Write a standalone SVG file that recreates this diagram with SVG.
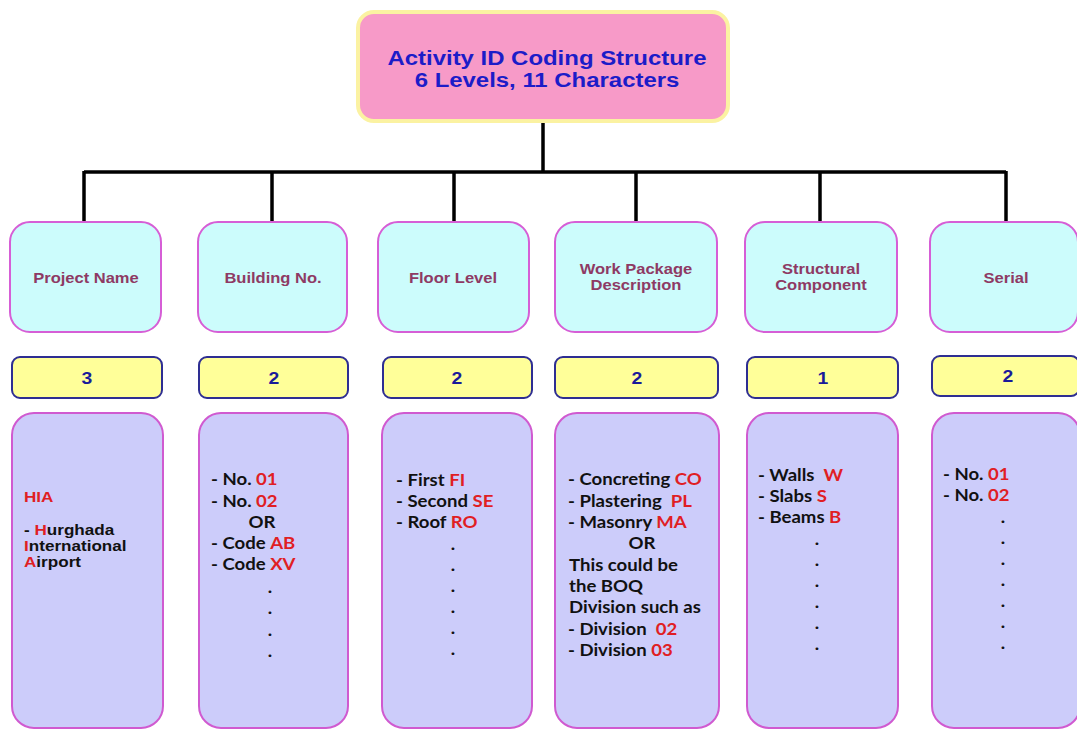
<svg xmlns="http://www.w3.org/2000/svg" width="1077" height="729" viewBox="0 0 1077 729">
  <style>
    text { transform-box: fill-box; white-space: pre; }
    .l { transform-origin: left center; transform: scaleX(1.14); }
    .c { transform-origin: center; transform: scaleX(1.14); text-anchor: middle; }
    .title { font-family: "Liberation Sans", Arial, sans-serif; font-weight: bold; font-size: 21px; fill: #1c1cc8; }
    .head { font-family: "Liberation Sans", Arial, sans-serif; font-weight: bold; font-size: 14.5px; fill: #8e3a64; }
    .num { font-family: "Liberation Sans", Arial, sans-serif; font-weight: bold; font-size: 17px; fill: #1a1a9a; }
    .ar { font-family: "Liberation Sans", Arial, sans-serif; font-weight: bold; font-size: 15px; fill: #111; }
    .cb { font-family: Lato, "Open Sans", sans-serif; font-weight: bold; font-size: 16.3px; fill: #111; }
    .r { fill: #e01e24; }
    .root { fill: #f79ac8; stroke: #fbf2a2; stroke-width: 4; }
    .hd { fill: #ccfcfc; stroke: #d65ed6; stroke-width: 2; }
    .nb { fill: #ffff99; stroke: #2e2e92; stroke-width: 2; }
    .dt { fill: #ccccfa; stroke: #d05ad0; stroke-width: 2; }
    .wire { stroke: #000; stroke-width: 3.5; fill: none; }
  </style>

  <!-- tree connectors -->
  <g id="connectors">
    <line class="wire" x1="543" y1="121" x2="543" y2="172" stroke-width="5"/>
    <line class="wire" x1="84" y1="172" x2="1006" y2="172"/>
    <line class="wire" x1="84" y1="171" x2="84" y2="222"/>
    <line class="wire" x1="272" y1="171" x2="272" y2="222"/>
    <line class="wire" x1="454" y1="171" x2="454" y2="222"/>
    <line class="wire" x1="636" y1="171" x2="636" y2="222"/>
    <line class="wire" x1="820" y1="171" x2="820" y2="222"/>
    <line class="wire" x1="1006" y1="171" x2="1006" y2="222"/>
  </g>

  <!-- root -->
  <g id="root">
    <rect class="root" x="358" y="12" width="370" height="109" rx="16"/>
    <text class="title c" x="547" y="65">Activity ID Coding Structure</text>
    <text class="title c" x="547" y="87">6 Levels, 11 Characters</text>
  </g>

  <!-- level 1: project name -->
  <g id="project-name">
    <rect class="hd" x="10" y="222" width="151" height="110" rx="20"/>
    <text class="head c" x="86" y="283">Project Name</text>
    <rect class="nb" x="12" y="357" width="150" height="41" rx="8"/>
    <text class="num c" x="87" y="384">3</text>
    <rect class="dt" x="12" y="413" width="151" height="315" rx="22"/>
    <text class="ar l r" x="24" y="502">HIA</text>
    <text class="ar l" x="24" y="535">- <tspan class="r">H</tspan>urghada</text>
    <text class="ar l" x="24" y="551"><tspan class="r">I</tspan>nternational</text>
    <text class="ar l" x="24" y="567"><tspan class="r">A</tspan>irport</text>
  </g>

  <!-- level 2: building -->
  <g id="building-no">
    <rect class="hd" x="198" y="222" width="149" height="110" rx="20"/>
    <text class="head c" x="273" y="283">Building No.</text>
    <rect class="nb" x="199" y="357" width="149" height="41" rx="8"/>
    <text class="num c" x="274" y="384">2</text>
    <rect class="dt" x="199" y="413" width="149" height="315" rx="22"/>
    <text class="cb l" x="211" y="485">- No. <tspan class="r">01</tspan></text>
    <text class="cb l" x="211" y="507">- No. <tspan class="r">02</tspan></text>
    <text class="cb c" x="262" y="528">OR</text>
    <text class="cb l" x="211" y="549">- Code <tspan class="r">AB</tspan></text>
    <text class="cb l" x="211" y="570">- Code <tspan class="r">XV</tspan></text>
    <text class="cb c" x="270" y="593">.</text>
    <text class="cb c" x="270" y="614">.</text>
    <text class="cb c" x="270" y="636">.</text>
    <text class="cb c" x="270" y="657">.</text>
  </g>

  <!-- level 3: floor -->
  <g id="floor-level">
    <rect class="hd" x="378" y="222" width="151" height="110" rx="20"/>
    <text class="head c" x="453" y="283">Floor Level</text>
    <rect class="nb" x="383" y="357" width="149" height="41" rx="8"/>
    <text class="num c" x="457" y="384">2</text>
    <rect class="dt" x="382" y="413" width="150" height="315" rx="22"/>
    <text class="cb l" x="396" y="486">- First <tspan class="r">FI</tspan></text>
    <text class="cb l" x="396" y="507">- Second <tspan class="r">SE</tspan></text>
    <text class="cb l" x="396" y="528">- Roof <tspan class="r">RO</tspan></text>
    <text class="cb c" x="453" y="550">.</text>
    <text class="cb c" x="453" y="571">.</text>
    <text class="cb c" x="453" y="592">.</text>
    <text class="cb c" x="453" y="613">.</text>
    <text class="cb c" x="453" y="634">.</text>
    <text class="cb c" x="453" y="655">.</text>
  </g>

  <!-- level 4: work package -->
  <g id="work-package">
    <rect class="hd" x="555" y="222" width="162" height="110" rx="20"/>
    <text class="head c" x="636" y="274">Work Package</text>
    <text class="head c" x="636" y="290">Description</text>
    <rect class="nb" x="555" y="357" width="163" height="41" rx="8"/>
    <text class="num c" x="637" y="384">2</text>
    <rect class="dt" x="555" y="413" width="164" height="315" rx="22"/>
    <text class="cb l" x="568" y="485">- Concreting <tspan class="r">CO</tspan></text>
    <text class="cb l" x="568" y="507" xml:space="preserve">- Plastering  <tspan class="r">PL</tspan></text>
    <text class="cb l" x="568" y="528">- Masonry <tspan class="r">MA</tspan></text>
    <text class="cb c" x="642" y="549">OR</text>
    <text class="cb l" x="569" y="571">This could be</text>
    <text class="cb l" x="569" y="592">the BOQ</text>
    <text class="cb l" x="569" y="613">Division such as</text>
    <text class="cb l" x="568" y="635" xml:space="preserve">- Division  <tspan class="r">02</tspan></text>
    <text class="cb l" x="568" y="656">- Division <tspan class="r">03</tspan></text>
  </g>

  <!-- level 5: structural component -->
  <g id="structural-component">
    <rect class="hd" x="745" y="222" width="152" height="110" rx="20"/>
    <text class="head c" x="821" y="274">Structural</text>
    <text class="head c" x="821" y="290">Component</text>
    <rect class="nb" x="747" y="357" width="151" height="41" rx="8"/>
    <text class="num c" x="823" y="384">1</text>
    <rect class="dt" x="747" y="413" width="151" height="315" rx="22"/>
    <text class="cb l" x="758" y="481" xml:space="preserve">- Walls  <tspan class="r">W</tspan></text>
    <text class="cb l" x="758" y="502">- Slabs <tspan class="r">S</tspan></text>
    <text class="cb l" x="758" y="523">- Beams <tspan class="r">B</tspan></text>
    <text class="cb c" x="817" y="545">.</text>
    <text class="cb c" x="817" y="566">.</text>
    <text class="cb c" x="817" y="587">.</text>
    <text class="cb c" x="817" y="608">.</text>
    <text class="cb c" x="817" y="629">.</text>
    <text class="cb c" x="817" y="650">.</text>
  </g>

  <!-- level 6: serial -->
  <g id="serial">
    <rect class="hd" x="930" y="222" width="148" height="110" rx="20"/>
    <text class="head c" x="1006" y="283">Serial</text>
    <rect class="nb" x="932" y="356" width="147" height="40" rx="8"/>
    <text class="num c" x="1008" y="382">2</text>
    <rect class="dt" x="932" y="413" width="148" height="315" rx="22"/>
    <text class="cb l" x="943" y="480">- No. <tspan class="r">01</tspan></text>
    <text class="cb l" x="943" y="501">- No. <tspan class="r">02</tspan></text>
    <text class="cb c" x="1003" y="523">.</text>
    <text class="cb c" x="1003" y="544">.</text>
    <text class="cb c" x="1003" y="565">.</text>
    <text class="cb c" x="1003" y="586">.</text>
    <text class="cb c" x="1003" y="607">.</text>
    <text class="cb c" x="1003" y="628">.</text>
    <text class="cb c" x="1003" y="649">.</text>
  </g>
</svg>
